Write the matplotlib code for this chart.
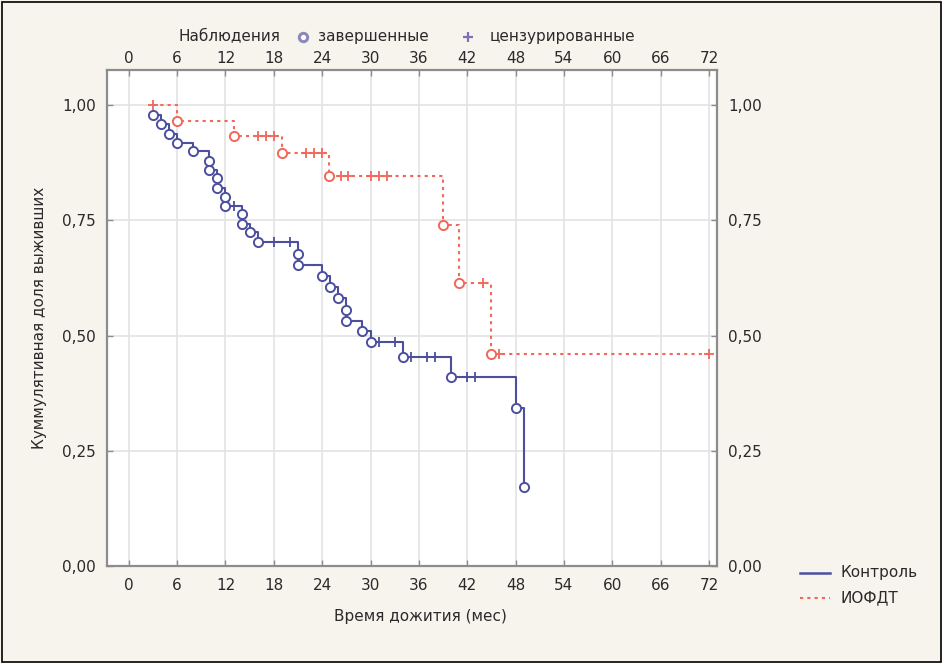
import matplotlib
matplotlib.use("Agg")
import matplotlib.pyplot as plt
from matplotlib.lines import Line2D
from matplotlib.patches import Rectangle

plt.rcParams['font.family'] = ['DejaVu Sans']

# ---------------- data ----------------
# Control group: all observations in time order; event=1 completed, 0 censored
ctrl_t = [3, 4, 5, 6, 8, 10, 10, 11, 11, 12, 12, 13, 14, 14, 15, 16, 18, 20, 21, 21,
          24, 25, 26, 27, 27, 29, 30, 31, 33, 34, 35, 37, 38, 40, 42, 43, 48, 49]
ctrl_s = [0.978, 0.958, 0.937, 0.918, 0.900, 0.879, 0.859, 0.841, 0.820, 0.800, 0.781, 0.781,
          0.763, 0.743, 0.724, 0.703, 0.703, 0.703, 0.677, 0.653,
          0.629, 0.605, 0.581, 0.556, 0.532, 0.509, 0.486, 0.486, 0.486, 0.454, 0.454, 0.454, 0.454,
          0.411, 0.411, 0.411, 0.343, 0.171]
ctrl_e = [1, 1, 1, 1, 1, 1, 1, 1, 1, 1, 1, 0, 1, 1, 1, 1, 0, 0, 1, 1,
          1, 1, 1, 1, 1, 1, 1, 0, 0, 1, 0, 0, 0, 1, 0, 0, 1, 1]

# ИОФДТ group
iofdt_t = [3, 6, 13.1, 16, 17, 18, 19, 22, 23, 24, 24.8, 26.4, 27.2, 30.1, 31, 32,
           39, 41, 44, 45, 46, 72]
iofdt_s = [1.0, 0.965, 0.933, 0.933, 0.933, 0.933, 0.897, 0.897, 0.897, 0.897, 0.847,
           0.847, 0.847, 0.847, 0.847, 0.847, 0.740, 0.614, 0.614, 0.460, 0.460, 0.460]
iofdt_e = [0, 1, 1, 0, 0, 0, 1, 0, 0, 0, 1, 0, 0, 0, 0, 0, 1, 1, 0, 1, 0, 0]

x_ticks = [0, 6, 12, 18, 24, 30, 36, 42, 48, 54, 60, 66, 72]
y_ticks = [0.0, 0.25, 0.5, 0.75, 1.0]
y_tick_labels = ["0,00", "0,25", "0,50", "0,75", "1,00"]

series_names = ["Контроль", "ИОФДТ"]
legend_top = ["Наблюдения", "завершенные", "цензурированные"]
x_label = "Время дожития (мес)"
y_label = "Куммулятивная доля выживших"

# ---------------- styling ----------------
BLUE = "#4b4f9e"
RED = "#f0685a"
BG = "#f7f4ee"
GRID = "#e3e3e3"
FRAME = "#8c8c8c"
TXT = "#2a2a2a"
FS = 11

W, H = 942, 663
fig = plt.figure(figsize=(W / 100, H / 100), dpi=100, facecolor=BG)

L, R, T, B = 107, 717, 70, 566
ax = fig.add_axes([L / W, 1 - B / H, (R - L) / W, (B - T) / H])
ax.set_facecolor("white")
ax.set_xlim(-2.7, 73.0)
ax.set_ylim(0, 1.076)

for v in x_ticks:
    ax.axvline(v, color=GRID, lw=1.2, zorder=0)
for v in y_ticks:
    ax.axhline(v, color=GRID, lw=1.2, zorder=0)


def draw(tt, ss, ee, color, ls, lw):
    ax.step(tt, ss, where="post", color=color, ls=ls, lw=lw, zorder=2)
    ev_t = [t for t, e in zip(tt, ee) if e == 1]
    ev_s = [s for s, e in zip(ss, ee) if e == 1]
    ce_t = [t for t, e in zip(tt, ee) if e == 0]
    ce_s = [s for s, e in zip(ss, ee) if e == 0]
    ax.plot(ce_t, ce_s, ls="none", marker="+", ms=7, mew=1.3, color=color, zorder=3)
    ax.plot(ev_t, ev_s, ls="none", marker="o", ms=6.6, mew=1.4, mec=color,
            mfc="white", zorder=4)


draw(ctrl_t, ctrl_s, ctrl_e, BLUE, "-", 1.5)
draw(iofdt_t, iofdt_s, iofdt_e, RED, (0, (1.5, 2.0)), 1.5)

ax.set_xticks(x_ticks)
ax.set_xticklabels([str(v) for v in x_ticks])
ax.set_yticks(y_ticks)
ax.set_yticklabels(y_tick_labels)
ax.tick_params(axis="both", direction="in", length=4, width=1, color=FRAME,
               labelsize=FS, labelcolor=TXT, pad=7)
ax.tick_params(axis="x", which="both", top=True, labeltop=True, pad=9)
ax.xaxis.set_tick_params(which="major", labeltop=True)
for lbl in ax.xaxis.get_ticklabels(which="major"):
    pass
ax.tick_params(axis="y", right=True, labelright=True, pad=8)
for sp in ax.spines.values():
    sp.set_color(FRAME)
    sp.set_linewidth(1.6)

# move top labels slightly closer to frame (as in the reference)
for tk in ax.xaxis.get_major_ticks():
    tk.label2.set_y(1.0)
    tk.set_pad(9)
import matplotlib.transforms as mtrans
offset = mtrans.ScaledTranslation(0, -6 / 72, fig.dpi_scale_trans)
for tk in ax.xaxis.get_major_ticks():
    tk.label2.set_transform(tk.label2.get_transform() + offset)

# axis titles
fig.text(420 / W, 1 - 617 / H, x_label, ha="center", va="center", fontsize=FS, color=TXT)
fig.text(40 / W, 1 - 318 / H, y_label, ha="center", va="center", rotation=90,
         fontsize=FS, color=TXT)

# top legend
fig.text(178 / W, 1 - 36 / H, legend_top[0], ha="left", va="center", fontsize=FS, color=TXT)
fig.add_artist(Line2D([303 / W], [1 - 37 / H], marker="o", ms=6, mew=2.2,
                      mec="#8d88bb", mfc="white", ls="none"))
fig.text(318 / W, 1 - 36 / H, legend_top[1], ha="left", va="center", fontsize=FS, color=TXT)
fig.add_artist(Line2D([468 / W], [1 - 37 / H], marker="+", ms=7, mew=1.6,
                      color="#7a73b8", ls="none"))
fig.text(490 / W, 1 - 36 / H, legend_top[2], ha="left", va="center", fontsize=FS, color=TXT)

# right legend
fig.add_artist(Line2D([800 / W, 830 / W], [1 - 573 / H, 1 - 573 / H], color=BLUE, lw=1.8))
fig.text(840 / W, 1 - 573 / H, series_names[0], ha="left", va="center", fontsize=FS, color=TXT)
fig.add_artist(Line2D([800 / W, 830 / W], [1 - 598 / H, 1 - 598 / H], color=RED, lw=1.5,
                      ls=(0, (1.5, 2.0))))
fig.text(840 / W, 1 - 598 / H, series_names[1], ha="left", va="center", fontsize=FS, color=TXT)

# outer border
fig.add_artist(Rectangle((1.5 / W, 1.5 / H), 1 - 3 / W, 1 - 3 / H, transform=fig.transFigure,
                         fill=False, edgecolor="black", lw=1.2))

fig.savefig("out.png", dpi=100, facecolor=BG)
